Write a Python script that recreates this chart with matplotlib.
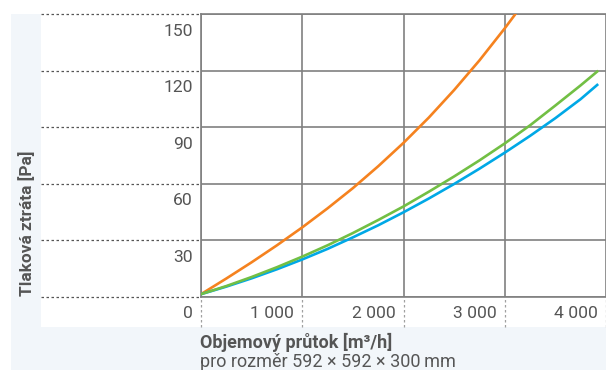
import matplotlib
matplotlib.use("Agg")
import matplotlib.pyplot as plt
import matplotlib.transforms as mtransforms
from matplotlib.patches import Rectangle

# values (flow m3/h -> pressure loss Pa)
flow = [0, 250, 500, 750, 1000, 1250, 1500, 1750, 2000, 2250, 2500, 2750,
        3000, 3250, 3500, 3750, 3913]
orange_flow = [0, 250, 500, 750, 1000, 1250, 1500, 1750, 2000, 2250, 2500,
               2750, 3000, 3150]
orange_dp = [1.5, 9.8, 18.4, 27.4, 36.9, 47.0, 57.7, 69.3, 81.7, 95.1, 109.7,
             125.4, 142.4, 153.2]
green_dp = [1.5, 5.8, 10.6, 15.8, 21.4, 27.4, 33.9, 40.8, 48.0, 55.8, 63.9,
            72.4, 81.4, 91.0, 101.5, 112.2, 119.5]
blue_dp = [1.5, 5.5, 9.9, 14.7, 19.9, 25.5, 31.6, 38.0, 44.9, 52.2, 59.9,
           68.0, 76.5, 85.4, 94.8, 104.9, 112.4]

x_ticks = [0, 1000, 2000, 3000, 4000]
x_labels = ["", "1 000", "2 000", "3 000", "4 000"]
y_ticks = [0, 30, 60, 90, 120, 150]

plt.rcParams["font.family"] = ["Roboto", "DejaVu Sans"]
TXT = "#555555"
GRID = "#808080"

W, H = 606, 370
fig = plt.figure(figsize=(W / 100, H / 100), dpi=100)

# background panels
fig.patches.append(Rectangle((11 / W, 0), 1, (H - 14) / H, transform=fig.transFigure,
                             facecolor="#f2f6fa", edgecolor="none", zorder=-2))
fig.patches.append(Rectangle((41 / W, (H - 327) / H), 1, (327 - 14) / H,
                             transform=fig.transFigure,
                             facecolor="white", edgecolor="none", zorder=-1))

ax = fig.add_axes([201 / W, (H - 297) / H, 405 / W, 283 / H])
ax.set_facecolor("none")
ax.set_xlim(0, 3913)
ax.set_ylim(0, 150)

ax.spines["right"].set_visible(False)
for s in ["left", "top", "bottom"]:
    ax.spines[s].set_color(GRID)
    ax.spines[s].set_linewidth(1.2)

ax.set_xticks(x_ticks)
ax.set_yticks(y_ticks)
ax.tick_params(length=0, labelbottom=False, labelleft=False)
ax.grid(True, color=GRID, linewidth=1.2)
ax.set_axisbelow(True)

ax.plot(orange_flow, orange_dp, color="#f5821f", lw=1.9, zorder=3)
ax.plot(flow, blue_dp, color="#00a8e6", lw=1.9, zorder=3)
ax.plot(flow, green_dp, color="#72bf44", lw=1.9, zorder=4)

# dotted extensions + tick labels
ty = mtransforms.blended_transform_factory(ax.transAxes, ax.transData)
tx = mtransforms.blended_transform_factory(ax.transData, ax.transAxes)
for v in y_ticks:
    ax.plot([-160 / 405, 0], [v, v], transform=ty, color="#555555", lw=0.9,
            ls=(0, (2, 2)), clip_on=False)
    off = mtransforms.ScaledTranslation(-8 / 100, -21.5 / 100, fig.dpi_scale_trans)
    ax.text(0, v, str(v), transform=ty + off, ha="right", va="baseline",
            fontsize=12.6, color=TXT)
for v, lab in zip(x_ticks, x_labels):
    ax.plot([v, v], [-30 / 283, 0], transform=tx, color="#a0a0a0", lw=0.9,
            ls=(0, (2, 2)), clip_on=False)
    off = mtransforms.ScaledTranslation(-8 / 100, -21 / 100, fig.dpi_scale_trans)
    ax.text(v, 0, lab, transform=tx + off, ha="right", va="baseline",
            fontsize=12.6, color=TXT)

fig.text(27 / W, (H - 296) / H, "Tlaková ztráta [Pa]", rotation=90, ha="center",
         va="bottom", fontsize=12.4, fontweight="bold", color=TXT)
fig.text(200 / W, (H - 348) / H, "Objemový průtok [m³/h]", ha="left", va="baseline",
         fontsize=13, fontweight="bold", color=TXT)
fig.text(200 / W, (H - 367) / H, "pro rozměr 592 × 592 × 300\u2009mm", ha="left",
         va="baseline", fontsize=13, color=TXT)

fig.savefig("out.png", dpi=100)
